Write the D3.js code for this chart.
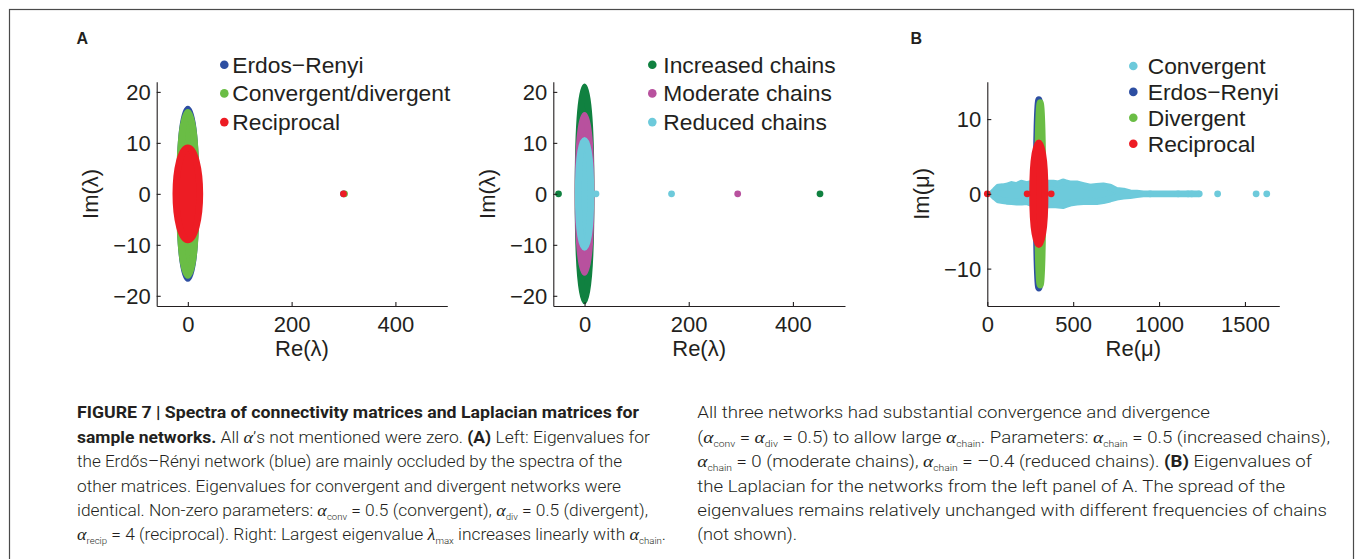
<!DOCTYPE html>
<html>
<head>
<meta charset="utf-8">
<script src="https://cdn.jsdelivr.net/npm/d3@7"></script>
<style>
body { margin: 0; background: #fff; }
svg { display: block; font-family: "Liberation Sans", Arial, Helvetica, sans-serif; }
</style>
</head>
<body>
<script>
// ---- data ----
// A left: eigenvalue discs of the connectivity matrices (half sizes in Re / Im units)
var aLeftNames = ["Erdos\u2212Renyi", "Convergent/divergent", "Reciprocal"];
var aLeftRx = [15.5, 16, 23];
var aLeftRy = [16.6, 16, 9];
var aLeftOut = [[300], [302], [300]];

// A right: chain motifs
var aRightNames = ["Increased chains", "Moderate chains", "Reduced chains"];
var aRightRx = [12.5, 12.5, 12];
var aRightRy = [21, 15.4, 10.5];
var aRightOut = [[-50, 452], [294], [22, 167]];

var lamTicksX = [0, 200, 400];
var lamTicksY = [-20, -10, 0, 10, 20];

// B: Laplacian spectra
var bNames = ["Convergent", "Erdos\u2212Renyi", "Divergent", "Reciprocal"];
var bCenter = [0, 300, 308, 300];
var bRx = [0, 15, 15, 36];
var bRy = [0, 12.6, 12.2, 6.8];
var bOut = [[948, 1111, 1169, 1190, 1234, 1341, 1565, 1627], [], [], [0, 232, 372]];
// convergent cloud is spread along the real axis: upper / lower edge of the cloud
var bConvRe  = [25, 45, 64, 90, 113, 142, 171, 200, 229, 260, 300, 340, 384, 413, 442, 462, 481, 520, 559, 598, 637, 675, 714, 753, 792, 831, 870, 908, 986, 1064, 1150, 1228];
var bConvTop = [0, 0.45, 0.9, 0.95, 1.03, 1.25, 1.12, 1.43, 1.25, 1.4, 1.5, 1.45, 1.43, 1.34, 1.61, 1.43, 1.34, 1.34, 1.12, 0.9, 0.99, 1.07, 0.9, 0.45, 0.36, 0.14, 0.1, 0, 0, 0, 0, 0];
var bConvBot = [0, 0.45, 0.8, 0.9, 0.99, 1.05, 1.1, 1.12, 1.03, 1.3, 1.45, 1.5, 1.43, 1.5, 1.56, 1.4, 1.25, 1.12, 1.05, 0.99, 1.03, 0.9, 0.7, 0.45, 0.3, 0.23, 0.1, 0, 0, 0, 0, 0];

var muTicksX = [0, 500, 1000, 1500];
var muTicksY = [-10, 0, 10];

// caption, piece by piece: b bold, n normal, g greek italic, s subscript
var capLeft = [
	[["FIGURE 7 | Spectra of connectivity matrices and Laplacian matrices for", "b"]],
	[["sample networks.", "b"], [" All ", "n"], ["\u03b1", "g"], ["\u2019s not mentioned were zero. ", "n"], ["(A)", "b"], [" Left: Eigenvalues for", "n"]],
	[["the Erd\u0151s\u2013R\u00e9nyi network (blue) are mainly occluded by the spectra of the", "n"]],
	[["other matrices. Eigenvalues for convergent and divergent networks were", "n"]],
	[["identical. Non-zero parameters: ", "n"], ["\u03b1", "g"], ["conv", "s"], [" = 0.5 (convergent), ", "n"], ["\u03b1", "g"], ["div", "s"], [" = 0.5 (divergent),", "n"]],
	[["\u03b1", "g"], ["recip", "s"], [" = 4 (reciprocal). Right: Largest eigenvalue ", "n"], ["\u03bb", "g"], ["max", "s"], [" increases linearly with ", "n"], ["\u03b1", "g"], ["chain", "s"], [".", "n"]]
];
var capRight = [
	[["All three networks had substantial convergence and divergence", "n"]],
	[["(", "n"], ["\u03b1", "g"], ["conv", "s"], [" = ", "n"], ["\u03b1", "g"], ["div", "s"], [" = 0.5) to allow large ", "n"], ["\u03b1", "g"], ["chain", "s"], [". Parameters: ", "n"], ["\u03b1", "g"], ["chain", "s"], [" = 0.5 (increased chains),", "n"]],
	[["\u03b1", "g"], ["chain", "s"], [" = 0 (moderate chains), ", "n"], ["\u03b1", "g"], ["chain", "s"], [" = \u20130.4 (reduced chains). ", "n"], ["(B)", "b"], [" Eigenvalues of", "n"]],
	[["the Laplacian for the networks from the left panel of A. The spread of the", "n"]],
	[["eigenvalues remains relatively unchanged with different frequencies of chains", "n"]],
	[["(not shown).", "n"]]
];

// ---- styles / layout ----
var ink = "#231f20";
var blue = "#2d4ea2", green = "#6abd45", red = "#ed1c24";
var dkgreen = "#108140", magenta = "#b8519e", cyan = "#6dcadb";
var dotR = 3.4;

var svg = d3.select("body").append("svg")
	.attr("width", 1357)
	.attr("height", 559);
svg.append("rect").attr("width", 1357).attr("height", 559).attr("fill", "#fff");
svg.append("rect")
	.attr("x", 9.5).attr("y", 9.5)
	.attr("width", 1344).attr("height", 600)
	.attr("fill", "none").attr("stroke", "#4a4a4a").attr("stroke-width", 1.2);

var top0 = 81.7, bot0 = 306;

function makeAxes(x, y, xt, yt, xlab, ylab) {
	var gx = svg.append("g").attr("transform", "translate(0," + bot0 + ")")
		.call(d3.axisBottom(x).tickValues(xt).tickFormat(d3.format("d")).tickSizeInner(-4).tickSizeOuter(0).tickPadding(10.5));
	var gy = svg.append("g").attr("transform", "translate(" + x.range()[0] + ",0)")
		.call(d3.axisLeft(y).tickValues(yt).tickFormat(d3.format("d")).tickSizeInner(-4).tickSizeOuter(0).tickPadding(6));
	[gx, gy].forEach(function(g){
		g.attr("font-size", 22).attr("font-family", "Liberation Sans, Arial, sans-serif");
		g.selectAll("path,line").attr("stroke", ink).attr("stroke-width", 1.1);
		g.selectAll("text").attr("fill", ink);
	});
	gy.selectAll("text").attr("dy", "0.34em");
	var xr = x.range();
	svg.append("text")
		.attr("x", (xr[0] + xr[1]) / 2).attr("y", 356)
		.attr("text-anchor", "middle").attr("font-size", 22).attr("fill", ink)
		.text(xlab);
	svg.append("text")
		.attr("transform", "translate(" + (xr[0] - 58.5) + "," + y(0) + ") rotate(-90)")
		.attr("text-anchor", "middle").attr("font-size", 22).attr("fill", ink)
		.text(ylab);
}

function legend(names, colors, dotX, textX, y0, step) {
	for (var i = 0; i < names.length; i++) {
		svg.append("circle")
			.attr("cx", dotX).attr("cy", y0 + i * step - 8)
			.attr("r", 4.3).attr("fill", colors[i]);
		svg.append("text")
			.attr("x", textX).attr("y", y0 + i * step)
			.attr("font-size", 22.8).attr("fill", ink)
			.text(names[i]);
	}
}

function disc(x, y, cx, rx, ry, color) {
	svg.append("ellipse")
		.attr("cx", x(cx)).attr("cy", y(0))
		.attr("rx", x(cx + rx) - x(cx))
		.attr("ry", y(0) - y(ry))
		.attr("fill", color).attr("stroke", color).attr("stroke-width", 2 * dotR);
}

function dots(x, y, list, color) {
	svg.append("g").selectAll("circle").data(list).enter().append("circle")
		.attr("cx", function(d){ return x(d); })
		.attr("cy", y(0))
		.attr("r", dotR)
		.attr("fill", color);
}

//A left
var xA = d3.scaleLinear().domain([-60, 500]).range([156.7, 447.3]);
var yA = d3.scaleLinear().domain([-22, 22]).range([bot0, top0]);
var aLeftColors = [blue, green, red];
for (var i = 0; i < aLeftNames.length; i++) {
	disc(xA, yA, 0, aLeftRx[i], aLeftRy[i], aLeftColors[i]);
	dots(xA, yA, aLeftOut[i], aLeftColors[i]);
}
makeAxes(xA, yA, lamTicksX, lamTicksY, "Re(\u03bb)", "Im(\u03bb)");
legend(aLeftNames, aLeftColors, 224.3, 232.3, 72.7, 28.7);

//A right
var xA2 = d3.scaleLinear().domain([-60, 500]).range([553.3, 845]);
var aRightColors = [dkgreen, magenta, cyan];
for (var i = 0; i < aRightNames.length; i++) {
	disc(xA2, yA, 0, aRightRx[i], aRightRy[i], aRightColors[i]);
	dots(xA2, yA, aRightOut[i], aRightColors[i]);
}
makeAxes(xA2, yA, lamTicksX, lamTicksY, "Re(\u03bb)", "Im(\u03bb)");
legend(aRightNames, aRightColors, 652.3, 663.3, 72.7, 28.7);

//B
var xB = d3.scaleLinear().domain([0, 1700]).range([987.3, 1279.3]);
var yB = d3.scaleLinear().domain([-15, 15]).range([bot0, top0]);
var bColors = [cyan, blue, green, red];
var conv = bConvRe.map(function(d, i){ return {re: d, top: bConvTop[i], bot: bConvBot[i]}; });
var area = d3.area()
	.x(function(d){ return xB(d.re); })
	.y0(function(d){ return yB(-d.bot); })
	.y1(function(d){ return yB(d.top); });
svg.append("path")
	.attr("d", area(conv))
	.attr("fill", cyan).attr("stroke", cyan)
	.attr("stroke-width", 2 * dotR).attr("stroke-linejoin", "round");
dots(xB, yB, bOut[0], cyan);
for (var i = 1; i < bNames.length; i++) {
	disc(xB, yB, bCenter[i], bRx[i], bRy[i], bColors[i]);
	dots(xB, yB, bOut[i], bColors[i]);
}
makeAxes(xB, yB, muTicksX, muTicksY, "Re(\u03bc)", "Im(\u03bc)");
legend(bNames, bColors, 1133.3, 1147.7, 74, 25.9);

// panel letters
svg.append("text").attr("x", 76.5).attr("y", 44).attr("font-size", 16).attr("font-weight", "bold").attr("fill", ink).text("A");
svg.append("text").attr("x", 910.5).attr("y", 44).attr("font-size", 16).attr("font-weight", "bold").attr("fill", ink).text("B");

// caption
function captionLine(parts, x0, yb, endX) {
	var t = svg.append("text")
		.attr("x", x0).attr("y", yb)
		.attr("font-family", "Roboto, Liberation Sans, sans-serif")
		.attr("font-weight", 300)
		.attr("font-size", 16.3).attr("fill", ink)
		.attr("textLength", endX - x0)
		.attr("lengthAdjust", "spacingAndGlyphs");
	var shifted = false;
	parts.forEach(function(p){
		var s = t.append("tspan").text(p[0]);
		if (p[1] == "b") s.attr("font-weight", 700);
		if (p[1] == "g") s.attr("font-family", "Liberation Serif, serif").attr("font-style", "italic").attr("font-weight", 400).attr("font-size", 17);
		if (p[1] == "s") { s.attr("font-size", 9).attr("dy", 4); shifted = true; }
		else if (shifted) { s.attr("dy", -4); shifted = false; }
	});
}
var capLeftEnd = [639, 650, 622, 621, 648, 666];
var capRightEnd = [1210, 1330, 1312, 1285, 1327, 797];
for (var i = 0; i < 6; i++) {
	captionLine(capLeft[i], 77, 418.3 + i * 24.4, capLeftEnd[i]);
	captionLine(capRight[i], 697.3, 418.3 + i * 24.4, capRightEnd[i]);
}
</script>
</body>
</html>
